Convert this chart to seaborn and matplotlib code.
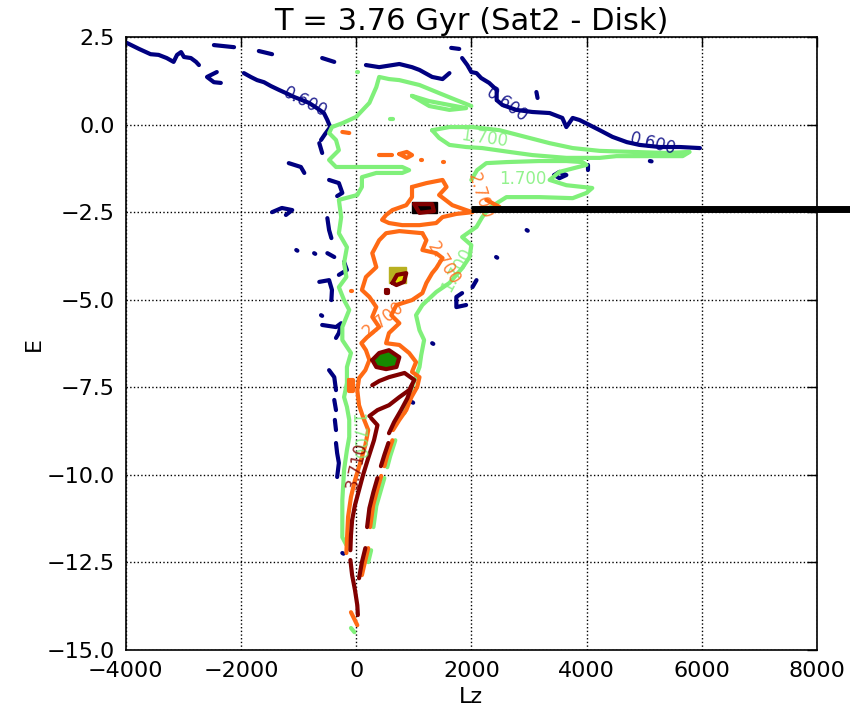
import matplotlib
matplotlib.use('Agg')
import matplotlib.pyplot as plt
import pandas as pd
import seaborn as sns

# contour levels and colours
levels = ['0.600', '1.700', '2.700', '3.700']
level_colors = ['#000080', '#80f07a', '#ff6a14', '#800000']

# traced contour paths, in data units (Lz, E)
navy_lz = [
    [-3980, -3770, -3570, -3430, -3290, -3170, -3110, -3040, -2990, -2870, -2780, -2730],
    [-2470, -2120],
    [-1690, -1460],
    [-590, -380],
    [-2420, -2590, -2470, -2350],
    [-1950, -1830, -1720, -1600, -1480, -1340, -1220, -1080, -940, -820, -680, -560, -500, -450, -540, -610],
    [170, 400, 750, 970, 1100, 1320, 1500, 1620],
    [1840, 1930, 2000, 2090, 2170, 2310, 2440, 2440, 2540, 2780, 3060, 3360, 3580, 3650, 3760, 3880,
     4050, 4230, 4450, 4700, 4920, 5270, 5620, 5970],
    [1650, 1790],
    [3130, 3150],
    [3440, 3530, 3650, 3530, 3440],
    [4020, 4020],
    [5100, 5130],
    [-640, -590],
    [-1170, -960, -900],
    [-470, -300, -240, -330],
    [-1460, -1290, -1110, -1220],
    [-500, -470, -430],
    [-500, -380],
    [-210, -160, -300],
    [-640, -470, -420, -430],
    [-590, -350, -260, -300, -350],
    [-470, -380, -350],
    [-380, -350],
    [-370, -350],
    [-350, -330, -300, -330],
    [-1040, -1020],
    [-730, -710],
    [-610, -590],
    [-240, -220],
    [2090, 2020],
    [1840, 1740, 1740, 1910],
    [2960, 2980],
    [2430, 2450],
    [1320, 1340],
    [970, 990],
]
navy_e = [
    [2.33, 2.16, 2.01, 1.99, 1.90, 1.79, 1.99, 2.07, 1.93, 1.90, 1.79, 1.70],
    [2.27, 2.21],
    [2.10, 2.01],
    [1.90, 1.79],
    [1.50, 1.36, 1.21, 1.19],
    [1.47, 1.36, 1.27, 1.21, 1.10, 0.99, 0.90, 0.79, 0.70, 0.62, 0.47, 0.33, 0.13, -0.07, -0.27, -0.44],
    [1.70, 1.64, 1.73, 1.64, 1.56, 1.36, 1.30, 1.47],
    [1.90, 1.70, 1.50, 1.47, 1.33, 1.19, 0.99, 0.70, 0.56, 0.42, 0.36, 0.33, 0.19, -0.07, 0.19, 0.13,
     -0.01, -0.16, -0.35, -0.50, -0.58, -0.64, -0.64, -0.67],
    [2.19, 2.16],
    [0.93, 0.76],
    [-1.44, -1.35, -1.44, -1.53, -1.44],
    [-1.15, -1.30],
    [-1.04, -1.05],
    [-0.53, -0.81],
    [-1.10, -1.21, -1.38],
    [-1.58, -1.67, -1.95, -2.04],
    [-2.50, -2.38, -2.44, -2.58],
    [-2.67, -3.01, -3.24],
    [-3.67, -3.78],
    [-3.92, -4.15, -4.29],
    [-4.49, -4.44, -4.72, -5.01],
    [-5.72, -5.78, -5.67, -5.95, -6.09],
    [-7.01, -7.21, -7.58],
    [-7.86, -8.15],
    [-8.43, -8.72],
    [-9.09, -9.38, -9.66, -10.06],
    [-3.58, -3.60],
    [-3.67, -3.69],
    [-5.44, -5.46],
    [-12.23, -12.25],
    [-4.44, -4.64],
    [-4.81, -4.92, -5.21, -5.15],
    [-3.01, -3.03],
    [-3.78, -3.80],
    [-6.24, -6.26],
    [-7.92, -7.94],
]

green_lz = [
    [2000, 1740, 1440, 1100, 750, 570,
     400, 350, 230, 0, -240, -420, -470, -350, -300, -470, -350, 350, 800, 920, 800, 350, 100, 100, 20,
     -300, -260, -300, -160, -210, -170, -300, -210, -120, -240, -240, -90, -160, -160, -210, -160,
     -120, -120, -160, -210, -240, -240, -240, -170],
    [970, 1270, 1620, 1910, 1620, 1270, 970],
    [1320, 1620, 2020, 2490, 2960, 3360, 3760, 4230, 4800, 5390, 5790, 5670, 5100, 4520, 4230, 3650,
     3060, 2660, 2190, 1910, 1620, 1440, 1320],
    [840, 970, 1100, 1130, 1180, 1100, 1040, 1150, 1390, 1620, 1840, 1970, 2000, 1840, 2090, 2190, 2310,
     2610, 3180, 3760, 4000, 4100, 3650, 3360, 3530, 4000, 3930, 3650, 3180, 2610, 2260, 2100, 2000],
    [680, 590, 540],
    [490, 420, 350, 300],
    [260, 210],
    [-90, -30],
    [10, 30],
    [590, 640],
]
green_e = [
    [0.53, 0.70, 0.90, 1.13, 1.27, 1.30,
     1.36, 1.07, 0.62, 0.22, 0.04, -0.07, -0.24, -0.44, -0.73, -1.01, -1.21, -1.21, -1.21, -1.30, -1.38,
     -1.38, -1.50, -1.78, -2.01, -2.15, -2.64, -3.10, -3.50, -3.95, -4.35, -4.64, -5.01, -5.29, -5.78,
     -6.15, -6.52, -6.92, -7.38, -7.78, -8.06, -8.43, -8.92, -9.29, -9.86, -10.72, -11.20, -11.78, -12.00],
    [0.82, 0.67, 0.56, 0.47, 0.42, 0.53, 0.82],
    [-0.16, -0.07, -0.07, -0.16, -0.36, -0.53, -0.67, -0.75, -0.78, -0.81, -0.78, -0.90, -0.90, -0.90,
     -0.95, -0.95, -0.87, -0.78, -0.67, -0.64, -0.58, -0.38, -0.16],
    [-8.23, -7.49, -6.92, -6.58, -6.15, -5.87, -5.44, -5.15, -4.78, -4.52, -4.10, -3.78, -3.44, -3.21,
     -2.92, -2.64, -2.38, -2.07, -2.07, -2.10, -1.95, -1.81, -1.73, -1.58, -1.35, -1.15, -1.07, -1.04,
     -1.04, -1.07, -1.10, -1.30, -1.58],
    [-9.01, -9.47, -9.78],
    [-10.09, -10.49, -10.89, -11.49],
    [-12.15, -12.49],
    [-14.37, -14.49],
    [1.50, 1.50],
    [0.16, 0.16],
]

orange_lz = [
    [970, 1220, 1500, 1570, 1440, 1670, 1910, 2020, 1740, 1500, 1390, 1100, 800, 570, 450, 520, 630,
     870, 970, 970],
    [1150, 750, 520, 400, 280, 350, 170, 100, 230, 350, 280, 400, 190, 90, 170, 230, 160, 50, 20, 50,
     120, 210, 160, 70, -20, -90, -140, -160, -170],
    [1150, 1220, 1150, 1390, 1500, 1390, 1320, 1220, 1150, 970, 700, 610, 750, 570, 520, 750, 920, 1040,
     970, 1100, 1060, 960, 870, 750, 640],
    [630, 540, 490],
    [435, 365, 296, 243],
    [210, 160, 100],
    [-90, 20],
    [-120, -50, -50, -120, -120],
    [-240, -120],
    [400, 630],
    [750, 880, 970, 880, 750],
    [1130, 1150],
    [1500, 1520],
    [-90, -70],
    [2260, 2490],
]
orange_e = [
    [-1.78, -1.67, -1.58, -1.78, -2.01, -2.30, -2.44, -2.50, -2.55, -2.64, -2.81, -2.87, -2.87, -2.81,
     -2.72, -2.58, -2.44, -2.30, -2.07, -1.78],
    [-3.10, -3.04, -3.10, -3.30, -3.67, -4.07, -4.35, -4.72, -4.92, -5.21, -5.49, -5.78, -6.07, -6.24,
     -6.44, -6.72, -7.01, -7.24, -7.58, -8.01, -8.35, -8.72, -9.15, -9.66, -10.15, -10.63, -11.20,
     -11.86, -12.23],
    [-3.10, -3.30, -3.58, -3.67, -3.81, -4.10, -4.24, -4.52, -4.81, -5.01, -5.15, -5.44, -5.67, -5.95,
     -6.24, -6.29, -6.52, -6.78, -7.06, -7.21, -7.49, -7.78, -8.15, -8.43, -8.72],
    [-9.01, -9.44, -9.75],
    [-10.03, -10.43, -10.86, -11.49],
    [-12.09, -12.43, -12.86],
    [-13.92, -14.29],
    [-7.30, -7.30, -7.60, -7.60, -7.30],
    [-0.21, -0.24],
    [-0.87, -0.87],
    [-0.84, -0.78, -0.87, -0.95, -0.84],
    [-1.01, -1.01],
    [-1.07, -1.07],
    [-4.75, -4.75],
    [-2.15, -2.35],
]

darkred_lz = [
    [280, 400, 570, 750, 700, 520, 350, 280],
    [230, 370, 570, 750, 920, 1010, 840, 570, 400, 280],
    [260, 370, 310, 210, 120, 50, -20, -70, -90, -100],
    [970, 890, 780, 660, 570],
    [560, 490, 430],
    [370, 300, 230, 190],
    [160, 100, 50],
    [-100, -70, -20, 20, 30],
    [510, 560, 560, 510, 510],
    [1010, 1320, 1350, 1100, 1010],
    [630, 710, 870, 830, 700, 630],
]
darkred_e = [
    [-6.72, -6.52, -6.44, -6.64, -6.92, -6.98, -6.92, -6.72],
    [-8.32, -8.15, -8.01, -7.78, -7.58, -7.29, -7.09, -7.21, -7.32, -7.44],
    [-8.38, -8.58, -9.01, -9.52, -10.00, -10.43, -10.86, -11.29, -11.72, -12.15],
    [-7.44, -7.81, -8.15, -8.49, -8.81],
    [-9.09, -9.43, -9.75],
    [-10.09, -10.49, -10.95, -11.49],
    [-12.09, -12.49, -12.95],
    [-12.43, -12.86, -13.29, -13.72, -14.00],
    [-4.72, -4.72, -4.82, -4.82, -4.72],
    [-2.27, -2.27, -2.47, -2.52, -2.27],
    [-4.52, -4.29, -4.24, -4.49, -4.58, -4.52],
]

# filled peak cells
black_box_lz = [970, 1410, 1410, 970]
black_box_e = [-2.21, -2.21, -2.52, -2.52]
olive_box_lz = [570, 870, 870, 570]
olive_box_e = [-4.07, -4.07, -4.52, -4.52]

# thick black marker line
marker_lz = [2000, 8600]
marker_e = [-2.40, -2.40]

# contour labels: (text, Lz, E, rotation, level index)
label_text = ['0.600', '0.600', '0.600', '1.700', '1.700', '1.700', '1.700', '2.700', '2.700', '2.700', '3.710']
label_lz = [-880, 2620, 5150, 2230, 2900, 1750, 20, 2150, 1520, 470, 10]
label_e = [0.65, 0.55, -0.55, -0.40, -1.55, -4.15, -8.90, -2.05, -3.95, -5.55, -9.75]
label_rot = [-27, -36, -14, -8, 0, 62, -88, -72, -58, 38, 78]
label_lev = [0, 0, 0, 1, 1, 1, 1, 2, 2, 2, 3]

frames = []
for lev, lz_paths, e_paths in zip(levels, [navy_lz, green_lz, orange_lz, darkred_lz],
                                  [navy_e, green_e, orange_e, darkred_e]):
    for i, (lz, e) in enumerate(zip(lz_paths, e_paths)):
        frames.append(pd.DataFrame({'Lz': lz, 'E': e, 'level': lev, 'seg': f'{lev}-{i}'}))
df = pd.concat(frames, ignore_index=True)

sns.set_theme(style='white')
plt.rcParams['font.family'] = ['DejaVu Sans']
plt.rcParams['text.color'] = 'black'
plt.rcParams['axes.labelcolor'] = 'black'

fig = plt.figure(figsize=(8.5, 7.12), dpi=100)
ax = fig.add_axes([0.148, 0.087, 0.813, 0.861])

# peak cells underneath the contour lines
ax.fill(black_box_lz, black_box_e, color='#050000', zorder=1.8)
ax.fill(olive_box_lz, olive_box_e, color='#b8b020', zorder=1.8)
ax.fill(darkred_lz[10], darkred_e[10], color='#e0e000', zorder=1.9)
ax.fill(darkred_lz[0], darkred_e[0], color='#168a00', zorder=1.9)

sns.lineplot(data=df, x='Lz', y='E', hue='level', hue_order=levels, units='seg', estimator=None,
             sort=False, palette=dict(zip(levels, level_colors)), linewidth=3, legend=False, ax=ax,
             solid_capstyle='round', solid_joinstyle='round')

for txt, x, y, r, li in zip(label_text, label_lz, label_e, label_rot, label_lev):
    ax.text(x, y, txt, color=level_colors[li], fontsize=12, rotation=r, ha='center', va='center',
            alpha=0.85, zorder=3)

ax.plot(marker_lz, marker_e, color='black', linewidth=5, solid_capstyle='butt', clip_on=False, zorder=5)

ax.set_xlim(-4000, 8000)
ax.set_ylim(-15, 2.5)
ax.set_xticks(range(-4000, 8001, 2000))
ax.set_yticks([-15.0, -12.5, -10.0, -7.5, -5.0, -2.5, 0.0, 2.5])
ax.grid(True, linestyle=':', color='black', linewidth=1)
ax.tick_params(direction='in', length=7, width=1, top=True, right=True, labelsize=16, pad=8,
               colors='black')
for sp in ax.spines.values():
    sp.set_color('black')
    sp.set_linewidth(1.2)
ax.set_title('T = 3.76 Gyr (Sat2 - Disk)', fontsize=22, pad=5, color='black')
ax.set_xlabel('Lz', fontsize=16, labelpad=4)
ax.set_ylabel('E', fontsize=16, labelpad=2)

fig.savefig('out.png', dpi=100)
